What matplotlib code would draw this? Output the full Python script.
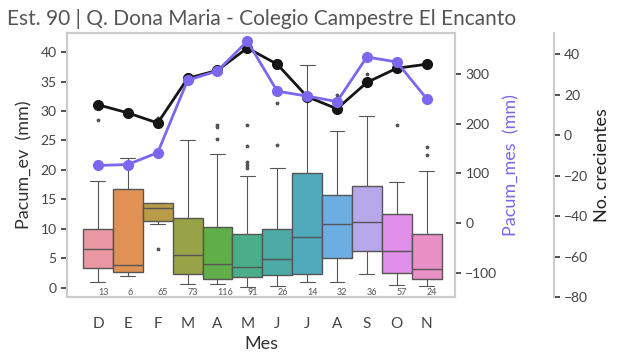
import numpy as np
import matplotlib
matplotlib.use("Agg")
import matplotlib.pyplot as plt
import seaborn as sns

sns.set_style("white")
plt.rcParams['font.family'] = ['Lato', 'DejaVu Sans']

# data
meses = ['D', 'E', 'F', 'M', 'A', 'M', 'J', 'J', 'A', 'S', 'O', 'N']
conteo = [13, 6, 65, 73, 116, 91, 26, 14, 32, 36, 57, 24]

# box stats of Pacum_ev (mm)
q1 = [3.3, 2.6, 11.3, 2.4, 1.5, 1.75, 2.1, 2.4, 5.1, 6.2, 2.45, 1.5]
med = [6.5, 3.8, 13.5, 5.5, 4.1, 3.45, 4.8, 8.55, 10.75, 11.1, 6.2, 3.1]
q3 = [9.9, 16.7, 14.3, 11.8, 10.25, 9.05, 9.9, 19.4, 15.7, 17.3, 12.45, 9.05]
w_lo = [0.9, 1.9, 10.8, 0.6, 0.6, 0.2, 0.3, 0.9, 0.9, 2.4, 0.45, 0.25]
w_hi = [18.1, 22.1, 14.3, 25.1, 22.7, 18.95, 20.4, 37.8, 26.6, 29.1, 17.9, 19.75]
fliers = [[28.5], [], [6.5, 28.8], [], [27.6, 27.2, 25.3],
          [27.7, 24.1, 21.3, 20.8, 20.3], [31.3, 24.3], [], [32.7],
          [36.3], [27.55], [23.8, 22.6]]

# monthly accumulated precipitation (mm)
pacum_mes = [116, 118, 142, 288, 307, 367, 266, 256, 245, 335, 325, 251]
# number of floods
crecientes = [15, 11, 6, 28, 32, 43, 35, 19, 13, 26, 33, 35]

fig = plt.figure(figsize=(6.22, 3.61), dpi=100)
ax = fig.add_axes([0.108, 0.1765, 0.6235, 0.7315])

pal = [sns.desaturate(c, 0.75) for c in sns.husl_palette(12, l=.7)]

stats = []
for i in range(len(meses)):
    stats.append(dict(med=med[i], q1=q1[i], q3=q3[i], whislo=w_lo[i],
                      whishi=w_hi[i], fliers=fliers[i]))

edge = '#555555'
bp = ax.bxp(stats, positions=range(len(meses)), widths=1.0, patch_artist=True,
            boxprops=dict(edgecolor=edge, linewidth=1.0),
            medianprops=dict(color=edge, linewidth=1.0),
            whiskerprops=dict(color=edge, linewidth=0.8),
            capprops=dict(color=edge, linewidth=0.8),
            flierprops=dict(marker='*', markersize=2.5, markerfacecolor=edge,
                            markeredgecolor=edge, linestyle='none'),
            capwidths=0.5)
for patch, c in zip(bp['boxes'], pal):
    patch.set_facecolor(c)

for i, n in enumerate(conteo):
    ax.text(i, -0.75, str(n), ha='left', va='center', fontsize=6.5, color='#555555')

ax.set_xlim(-1.03, 11.95)
ax.set_ylim(-1.63, 43.2)
ax.set_xticks(range(len(meses)))
ax.set_xticklabels(meses)
ax.set_yticks(range(0, 41, 5))
ax.tick_params(axis='x', labelsize=11, colors='#444444', length=0, pad=14)
ax.tick_params(axis='y', labelsize=10, colors='#444444', length=4, direction='out',
               left=True, width=1.2)
ax.tick_params(axis='y', color='#333333')
ax.set_xlabel('Mes', fontsize=13, color='#333333', labelpad=4)
ax.set_ylabel('Pacum_ev  (mm)', fontsize=13, color='#333333', labelpad=6)
ax.set_title('Est. 90 | Q. Dona Maria - Colegio Campestre El Encanto',
             fontsize=15, color='#555555', pad=6)
for s in ax.spines.values():
    s.set_color('#cccccc')
    s.set_linewidth(1.5)

# Pacum_mes axis
ax2 = ax.twinx()
ax2.plot(range(len(meses)), pacum_mes, color='#7b68ee', marker='o',
         markersize=7, linewidth=2, zorder=3)
ax2.set_ylim(-150, 383)
ax2.set_yticks([-100, 0, 100, 200, 300])
ax2.set_ylabel('Pacum_mes  (mm)', fontsize=13, color='#7b68ee')
ax2.tick_params(axis='y', labelsize=10, colors='#444444', length=4, right=True,
                width=1.2)
ax2.tick_params(axis='y', color='#333333')
for s in ax2.spines.values():
    s.set_color('#cccccc')
    s.set_linewidth(1.5)

# No. crecientes axis
ax3 = ax.twinx()
ax3.spines['right'].set_position(('outward', 71))
ax3.plot(range(len(meses)), crecientes, color='#151515', marker='o',
         markersize=7, linewidth=2, zorder=2)
ax3.set_ylim(-80, 50.3)
ax3.set_yticks(range(-80, 41, 20))
ax3.set_ylabel('No. crecientes', fontsize=13, color='#222222')
ax3.tick_params(axis='y', labelsize=10, colors='#444444', length=4, right=True,
                width=1.2)
ax3.tick_params(axis='y', color='#333333')
for k, s in ax3.spines.items():
    s.set_visible(k == 'right')
ax3.spines['right'].set_color('#cccccc')
ax3.spines['right'].set_linewidth(1.5)

# purple line above black one
ax2.set_zorder(ax3.get_zorder() + 1)
ax2.patch.set_visible(False)
ax3.patch.set_visible(False)

fig.savefig('out.png', dpi=100)
